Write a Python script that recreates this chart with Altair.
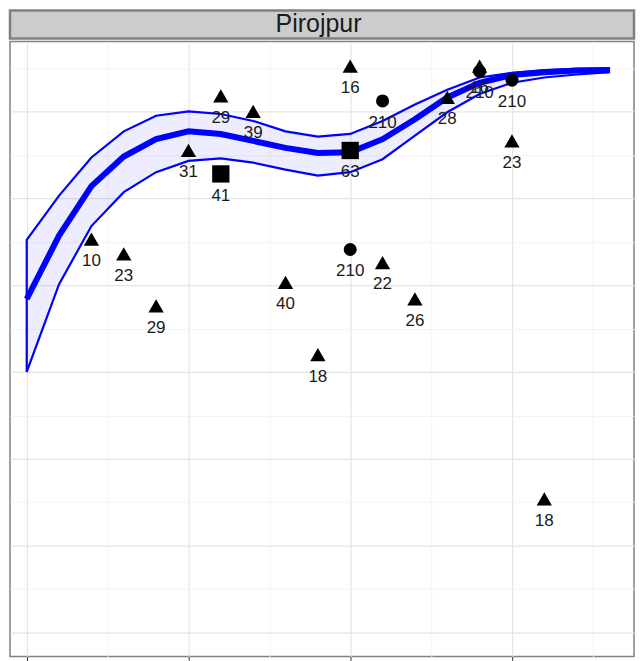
import altair as alt
import pandas as pd

# ---- data ----
panel_title = "Pirojpur"

# observed points (year, value, marker group, label)
pt_year = [2002, 2003, 2004, 2005, 2006, 2006, 2007, 2008, 2009, 2010, 2010,
           2010, 2011, 2011, 2012, 2013, 2014, 2014, 2015, 2015, 2016]
pt_value = [45.3, 43.6, 37.6, 55.5, 61.8, 52.8, 60.0, 40.3, 32.0, 65.2, 55.5,
            44.1, 61.2, 42.6, 38.4, 61.6, 65.2, 64.6, 63.6, 56.6, 15.4]
pt_kind = ["B", "B", "B", "B", "B", "C", "B", "B", "B", "B", "C",
           "A", "A", "B", "B", "B", "B", "A", "A", "B", "B"]
pt_label = ["10", "23", "29", "31", "29", "41", "39", "40", "18", "16", "63",
            "210", "210", "22", "26", "28", "16", "210", "210", "23", "18"]

# smoothed trend with confidence band
sm_year = list(range(2000, 2019))
sm_fit = [38.4, 45.7, 51.4, 54.8, 56.8, 57.7, 57.4, 56.6, 55.8, 55.2, 55.3,
          56.8, 59.1, 61.6, 63.3, 64.2, 64.5, 64.7, 64.75]
sm_upper = [45.2, 50.3, 54.7, 57.7, 59.5, 60.0, 59.7, 58.9, 57.7, 57.1, 57.4,
            58.9, 60.8, 62.5, 63.9, 64.45, 64.75, 64.9, 64.98]
sm_lower = [30.0, 40.1, 46.8, 50.7, 53.0, 54.3, 54.6, 54.1, 53.3, 52.6, 53.0,
            54.5, 57.2, 59.9, 62.0, 63.3, 63.9, 64.25, 64.5]

# grid values (major + minor)
x_ticks = [2000, 2002.5, 2005, 2007.5, 2010, 2012.5, 2015, 2017.5]
y_ticks = [0, 5, 10, 15, 20, 25, 30, 35, 40, 45, 50, 55, 60, 65]

pts = pd.DataFrame({"year": pt_year, "value": pt_value, "kind": pt_kind, "label": pt_label})
sm = pd.DataFrame({"year": sm_year, "fit": sm_fit, "upper": sm_upper, "lower": sm_lower})

FONT = "Liberation Sans"
W = 625
H_STRIP = 28
H_PANEL = 616

x_axis = alt.Axis(
    values=x_ticks, labels=False, title=None, domain=False,
    tickSize=4,
    tickColor={"condition": {"test": "datum.value % 5 === 0", "value": "#333333"}, "value": "transparent"},
    gridColor={"condition": {"test": "datum.value % 5 === 0", "value": "#E4E4E4"}, "value": "#F3F3F3"},
    gridWidth={"condition": {"test": "datum.value % 5 === 0", "value": 1.2}, "value": 1.0},
)
y_axis = alt.Axis(
    values=y_ticks, labels=False, ticks=False, title=None, domain=False,
    minExtent=0, maxExtent=0,
    gridColor={"condition": {"test": "datum.value % 10 === 0", "value": "#E4E4E4"}, "value": "#F3F3F3"},
    gridWidth={"condition": {"test": "datum.value % 10 === 0", "value": 1.2}, "value": 1.0},
)

x_scale = alt.Scale(domain=[1999.483, 2018.773], nice=False, zero=False)
y_scale = alt.Scale(domain=[-2.76, 68.05], nice=False, zero=False)

band = alt.Chart(sm).mark_area(
    fill="#0000FF", fillOpacity=0.07, stroke="#0000FF", strokeWidth=2.2
).encode(
    x=alt.X("year:Q", scale=x_scale, axis=x_axis),
    y=alt.Y("lower:Q", scale=y_scale, axis=y_axis),
    y2="upper:Q",
)

fit_line = alt.Chart(sm).mark_line(color="#0000FF", strokeWidth=6).encode(
    x=alt.X("year:Q", scale=x_scale, axis=x_axis),
    y=alt.Y("fit:Q", scale=y_scale, axis=y_axis),
)

points = alt.Chart(pts).mark_point(filled=True, opacity=1, color="black").encode(
    x=alt.X("year:Q", scale=x_scale, axis=x_axis),
    y=alt.Y("value:Q", scale=y_scale, axis=y_axis),
    shape=alt.Shape("kind:N", scale=alt.Scale(domain=["A", "B", "C"],
                                              range=["circle", "triangle-up", "square"]), legend=None),
    size=alt.Size("kind:N", scale=alt.Scale(domain=["A", "B", "C"], range=[170, 300, 200]), legend=None),
)

labels = alt.Chart(pts).mark_text(
    font=FONT, fontSize=17, color="#1A1A1A", dy=22, baseline="middle", align="center"
).encode(
    x=alt.X("year:Q", scale=x_scale, axis=x_axis),
    y=alt.Y("value:Q", scale=y_scale, axis=y_axis),
    text="label:N",
)

panel = alt.layer(band, fit_line, labels, points).properties(
    width=W, height=H_PANEL,
    view=alt.ViewBackground(fill="white", stroke="#808080", strokeWidth=1.5),
)

strip = alt.Chart(pd.DataFrame({"panel": [panel_title]})).mark_text(
    font=FONT, fontSize=25, color="#1A1A1A", baseline="middle", align="center"
).encode(
    text="panel:N",
    x=alt.value(309),
    y=alt.value(14),
).properties(
    width=W, height=H_STRIP,
    view=alt.ViewBackground(fill="#CCCCCC", stroke="#808080", strokeWidth=2.5),
)

chart = alt.vconcat(strip, panel, spacing=0).properties(
    padding={"left": 0, "top": 0, "right": 0, "bottom": 0},
    background="white",
)

chart.save("out.html", embed_options={"renderer": "svg", "actions": False})
